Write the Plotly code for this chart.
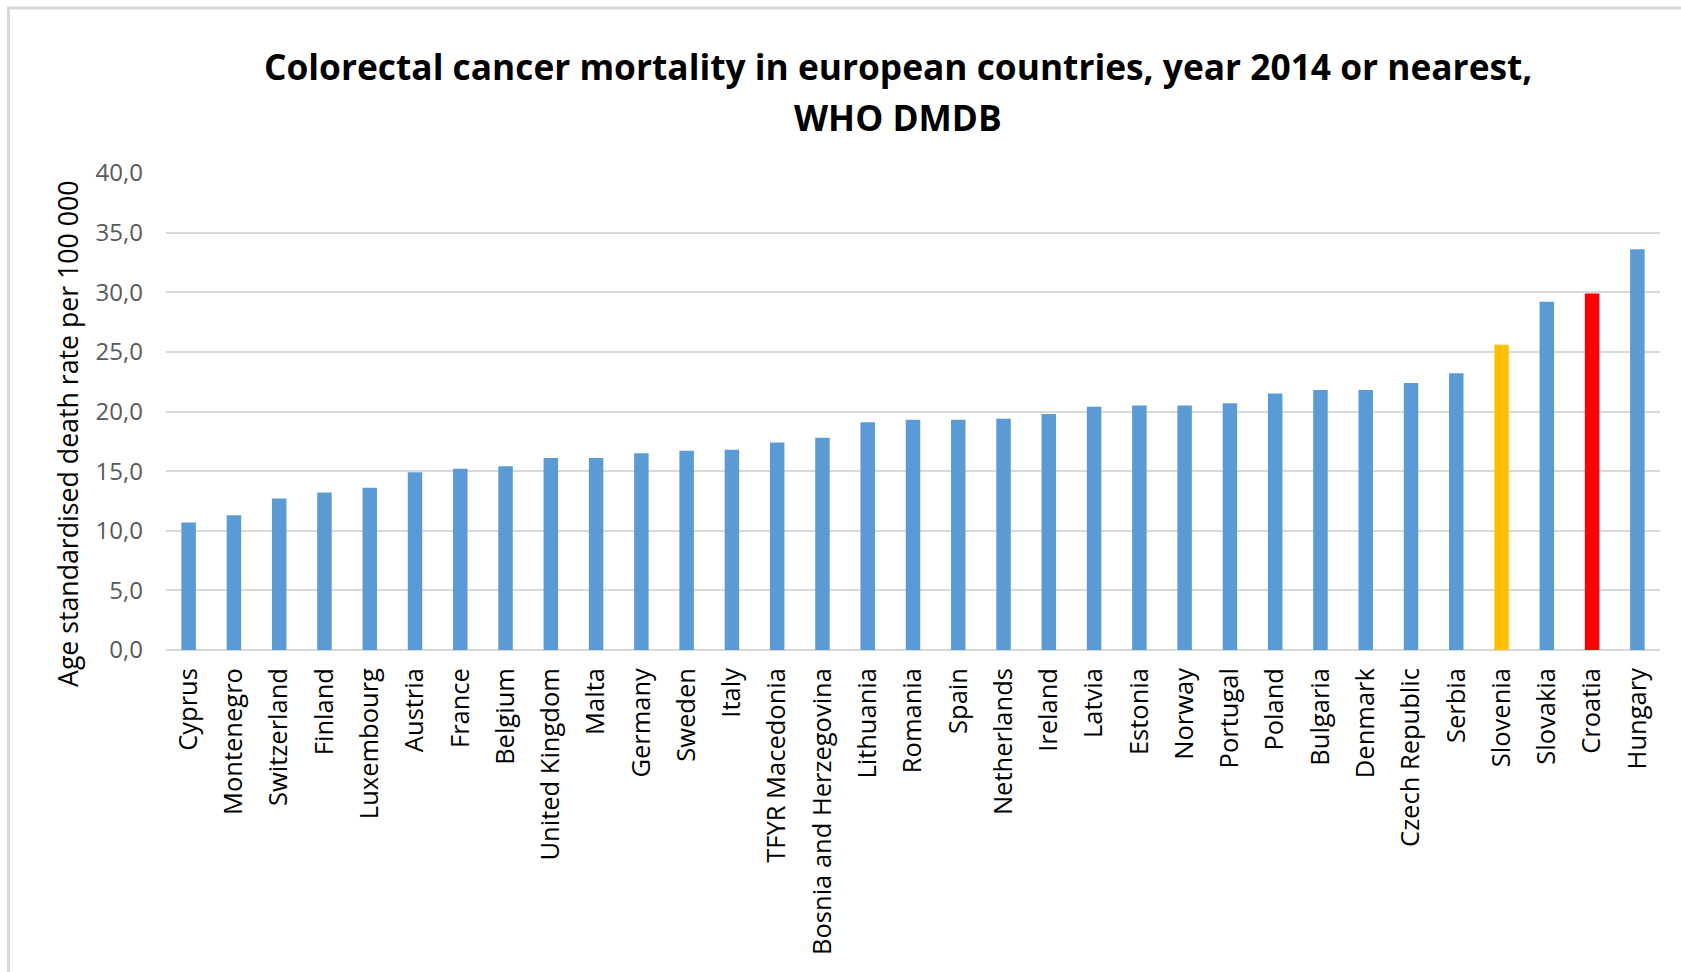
import plotly.graph_objects as go

countries = ["Cyprus", "Montenegro", "Switzerland", "Finland", "Luxembourg", "Austria",
             "France", "Belgium", "United Kingdom", "Malta", "Germany", "Sweden", "Italy",
             "TFYR Macedonia", "Bosnia and Herzegovina", "Lithuania", "Romania", "Spain",
             "Netherlands", "Ireland", "Latvia", "Estonia", "Norway", "Portugal", "Poland",
             "Bulgaria", "Denmark", "Czech Republic", "Serbia", "Slovenia", "Slovakia",
             "Croatia", "Hungary"]
rates = [10.7, 11.3, 12.7, 13.2, 13.6, 14.9, 15.2, 15.4, 16.1, 16.1, 16.5, 16.7, 16.8,
         17.4, 17.8, 19.1, 19.3, 19.3, 19.4, 19.8, 20.4, 20.5, 20.5, 20.7, 21.5,
         21.8, 21.8, 22.4, 23.2, 25.6, 29.2, 29.9, 33.6]
highlight = {"Slovenia": "#FFC000", "Croatia": "#FF0000"}
base_color = "#5B9BD5"
colors = [highlight.get(c, base_color) for c in countries]

W, H = 1681, 972
L, R, T, B = 166, 21, 173, 322
ph = H - T - B
pw = W - L - R

def px_x(x):
    return (x - L) / pw

def px_y(y):
    return (H - B - y) / ph

fig = go.Figure(go.Bar(
    x=countries, y=rates, marker=dict(color=colors, line=dict(width=0)),
    width=0.32,
))

grid = "#D9D9D9"
FONT = "Open Sans"
fig.update_layout(
    width=W, height=H,
    margin=dict(l=L, r=R, t=T, b=B),
    plot_bgcolor="white", paper_bgcolor="white",
    separators=", ",
    showlegend=False,
    font=dict(family=FONT),
    xaxis=dict(
        tickangle=-90, tickfont=dict(size=25.5, color="black", family=FONT),
        showgrid=False, showline=False, ticks="", ticklabelstandoff=12,
        range=[-0.5, len(countries) - 0.5],
    ),
    yaxis=dict(
        range=[0, 40], dtick=5, tickformat=".1f",
        tickfont=dict(size=24, color="#595959", family=FONT),
        showgrid=True, gridcolor=grid, gridwidth=1.5,
        zeroline=True, zerolinecolor=grid, zerolinewidth=1.5,
        showline=False, ticks="", ticklabelstandoff=22,
    ),
    annotations=[
        dict(text="<b>Colorectal cancer mortality in european countries, year 2014 or nearest,</b>",
             xref="paper", yref="paper", x=px_x(898), y=px_y(66), showarrow=False,
             xanchor="center", yanchor="middle",
             font=dict(size=35.3, color="black", family=FONT)),
        dict(text="<b>WHO DMDB</b>",
             xref="paper", yref="paper", x=px_x(898), y=px_y(117), showarrow=False,
             xanchor="center", yanchor="middle",
             font=dict(size=35.3, color="black", family=FONT)),
        dict(text="Age standardised death rate per 100 000", textangle=-90,
             xref="paper", yref="paper", x=px_x(67), y=px_y(434), showarrow=False,
             xanchor="center", yanchor="middle",
             font=dict(size=26.7, color="black", family=FONT)),
    ],
    shapes=[
        dict(type="line", xref="paper", yref="paper", x0=px_x(8.5), x1=px_x(8.5),
             y0=px_y(7), y1=px_y(H + 5), line=dict(color=grid, width=3)),
        dict(type="line", xref="paper", yref="paper", x0=px_x(7), x1=px_x(W + 5),
             y0=px_y(8), y1=px_y(8), line=dict(color=grid, width=3)),
    ],
)

fig.write_html("out.html")
